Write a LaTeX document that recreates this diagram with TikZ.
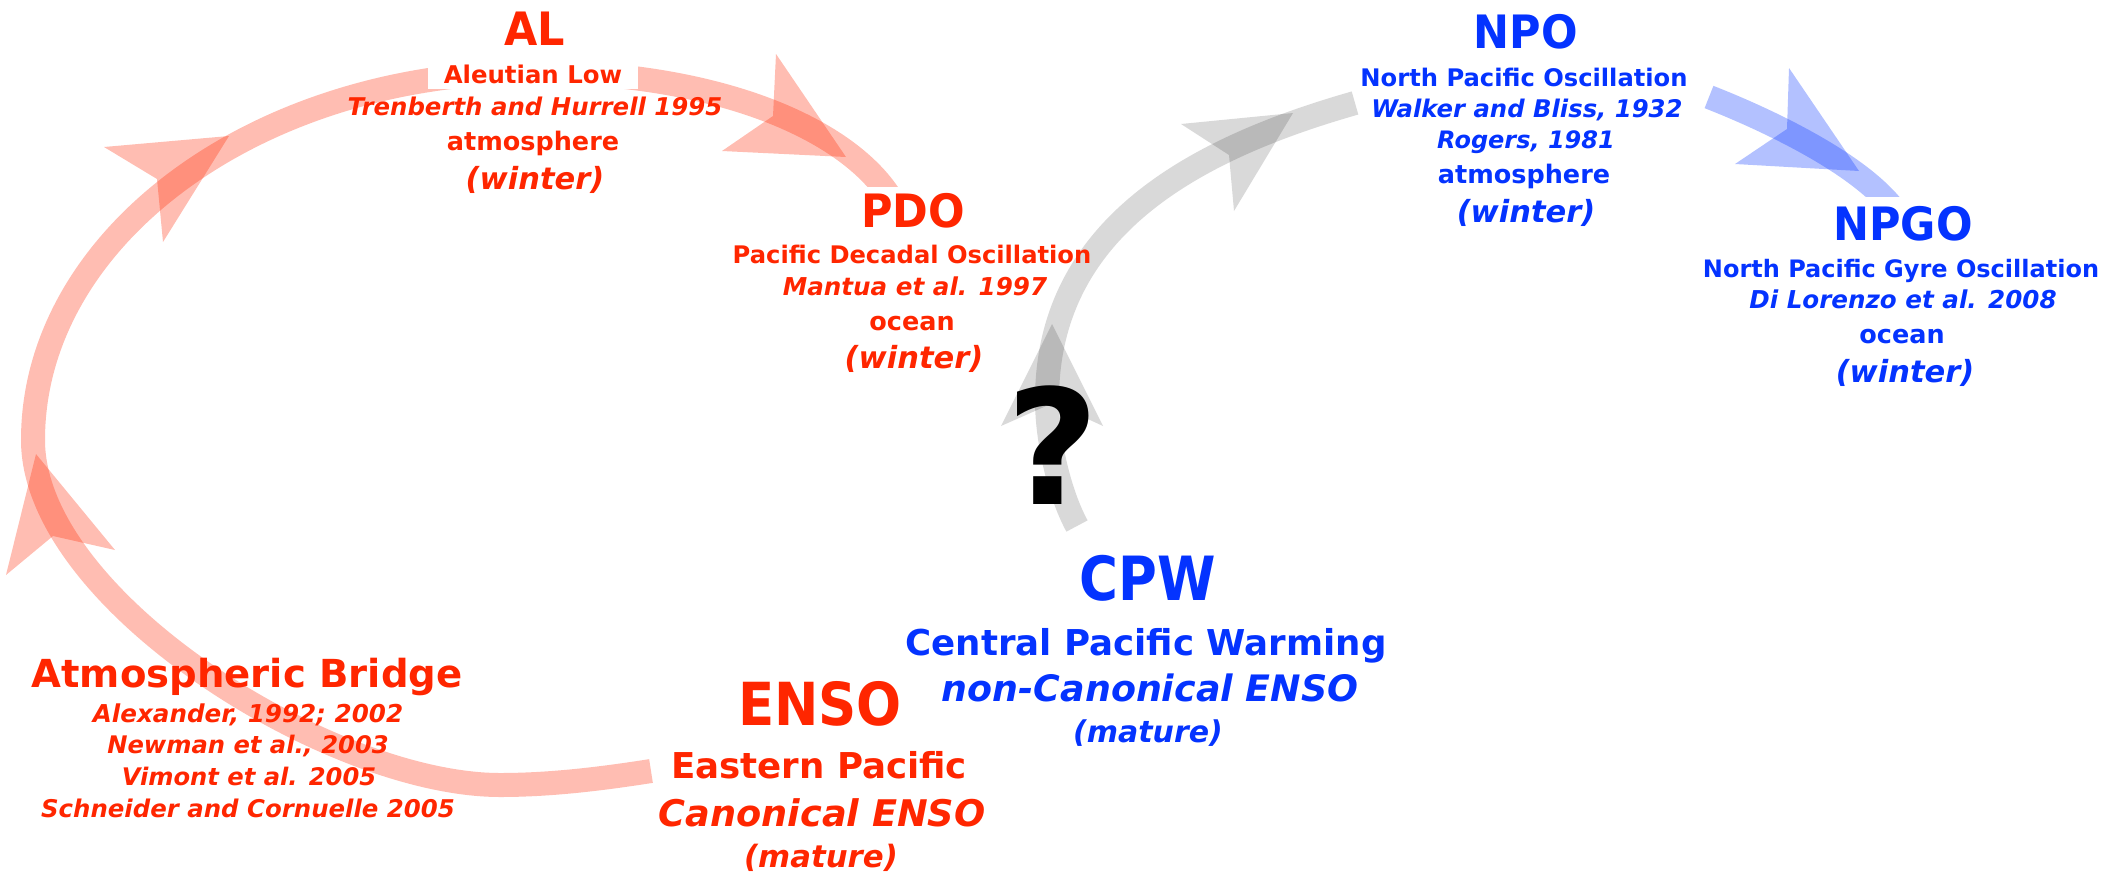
\documentclass[tikz,border=0pt]{standalone}
\usepackage{graphicx}
\usepackage{fontspec}
\setmainfont{DejaVu Sans}
\definecolor{kred}{RGB}{255,38,0}
\definecolor{kblue}{RGB}{4,51,255}
\newcommand\setfs[1]{\fontsize{#1}{#1}\selectfont}
\newcommand\tall[2]{\scalebox{1}[#1]{#2}}
\begin{document}
\begin{tikzpicture}[x=1pt,y=-1pt,
  lbl/.style={anchor=base, inner sep=0pt},
  rtxt/.style={lbl, text=kred},
  btxt/.style={lbl, text=kblue},
  tb/.style={font=\bfseries\setfs{#1}},
  ti/.style={font=\bfseries\itshape\setfs{#1}},
  arcline/.style={line width=24pt, line cap=butt},
  redarc/.style={arcline, draw=kred, draw opacity=0.3},
  grayarc/.style={arcline, draw=black, draw opacity=0.15},
  bluearc/.style={arcline, draw=kblue, draw opacity=0.3},
  redhead/.style={fill=kred, fill opacity=0.3},
  grayhead/.style={fill=black, fill opacity=0.15},
  bluehead/.style={fill=kblue, fill opacity=0.3},
  cover/.style={fill=white}
]
\useasboundingbox (0,0) rectangle (2106,876);

% ---------- connectors ----------
\coordinate (rA) at (651,771);
\coordinate (rB) at (500,785);
\coordinate (rC) at (33,440);
\coordinate (rD) at (533,72);
\coordinate (rE) at (892,200);
\draw[redarc] (rA) .. controls (600,779) and (550,785) .. (rB)
  .. controls (330,785) and (33,600) .. (rC)
  .. controls (33,237) and (257,72) .. (rD)
  .. controls (720,72) and (850,130) .. (rE);

\coordinate (gA) at (1077,526);
\coordinate (gB) at (1047,400);
\coordinate (gC) at (1355,103);
\draw[grayarc] (gA) .. controls (1060,495) and (1047,442) .. (gB)
  .. controls (1047,230) and (1190,150) .. (gC);

\coordinate (bA) at (1709,97);
\coordinate (bB) at (1893,208);
\draw[bluearc] (bA) .. controls (1760,117) and (1855,160) .. (bB);

% ---------- arrowheads ----------
\fill[redhead] (36,454) -- (115,550) -- (53,536) -- (6,575) -- cycle;
\fill[redhead] (229,136) -- (104,147) -- (157,179) -- (163,242) -- cycle;
\fill[redhead] (846,157) -- (776,54) -- (773,116) -- (722,151) -- cycle;
\fill[grayhead] (1052,324) -- (1001,426) -- (1053,403) -- (1103,426) -- cycle;
\fill[grayhead] (1293,113) -- (1181,124) -- (1229,155) -- (1234,211) -- cycle;
\fill[bluehead] (1859,171) -- (1789,68) -- (1787,129) -- (1735,164) -- cycle;

% ---------- AL ----------
\node[rtxt, tb=43] (al) at (535,45) {\tall{1.07}{AL}};
\node[rtxt, tb=24.4, cover, inner xsep=16pt, inner ysep=6pt] (alsub) at (533,83) {Aleutian Low};
\node[rtxt, ti=24.4] (alref) at (535,115) {Trenberth and Hurrell 1995};
\node[rtxt, tb=25.5] (alatm) at (533,150) {atmosphere};
\node[rtxt, ti=30.5] (alwin) at (535,189) {(winter)};

% ---------- PDO ----------
\node[rtxt, tb=43, cover, inner ysep=6pt, inner xsep=10pt] (pdo) at (913,227) {\tall{1.07}{PDO}};
\node[rtxt, tb=24.2] (pdosub) at (912,263) {Pacific Decadal Oscillation};
\node[rtxt, ti=24.6] (pdoref) at (915,295) {Mantua et al. 1997};
\node[rtxt, tb=25.5] (pdoocn) at (912,330) {ocean};
\node[rtxt, ti=30.5] (pdowin) at (914,368) {(winter)};

% ---------- NPO ----------
\node[btxt, tb=43] (npo) at (1526,48) {\tall{1.07}{NPO}};
\node[btxt, tb=24.2] (nposub) at (1524,86) {North Pacific Oscillation};
\node[btxt, ti=24.3] (nporefa) at (1527,117) {Walker and Bliss, 1932};
\node[btxt, ti=24] (nporefb) at (1526,148) {Rogers, 1981};
\node[btxt, tb=25.5] (npoatm) at (1524,183) {atmosphere};
\node[btxt, ti=30.5] (npowin) at (1526,222) {(winter)};

% ---------- NPGO ----------
\node[btxt, tb=43, cover, inner ysep=9pt, inner xsep=10pt] (npgo) at (1903,240) {\tall{1.07}{NPGO}};
\node[btxt, tb=24] (npgosub) at (1901,277) {North Pacific Gyre Oscillation};
\node[btxt, ti=24.6] (npgoref) at (1903,308) {Di Lorenzo et al. 2008};
\node[btxt, tb=25.5] (npgoocn) at (1902,343) {ocean};
\node[btxt, ti=30.5] (npgowin) at (1905,382) {(winter)};

% ---------- Atmospheric Bridge ----------
\node[rtxt, tb=38.6] (ab) at (247,687) {Atmospheric Bridge};
\node[rtxt, ti=24.6] (aba) at (248,722) {Alexander, 1992; 2002};
\node[rtxt, ti=24.2] (abb) at (248,753) {Newman et al., 2003};
\node[rtxt, ti=24.2] (abc) at (249,785) {Vimont et al. 2005};
\node[rtxt, ti=24.4] (abd) at (248,817) {Schneider and Cornuelle 2005};

% ---------- ENSO ----------
\node[rtxt, tb=53] (enso) at (820,725) {\tall{1.12}{ENSO}};
\node[rtxt, tb=35.6] (ensosub) at (819,778) {Eastern Pacific};
\node[rtxt, ti=36.7] (ensoref) at (822,826) {Canonical ENSO};
\node[rtxt, ti=30.8] (ensomat) at (821,867) {(mature)};

% ---------- CPW ----------
\node[btxt, tb=53] (cpw) at (1148,600) {\tall{1.15}{CPW}};
\node[btxt, tb=35.6] (cpwsub) at (1146,655) {Central Pacific Warming};
\node[btxt, ti=36.4] (cpwref) at (1150,701) {non-Canonical ENSO};
\node[btxt, ti=30] (cpwmat) at (1148,742) {(mature)};

% ---------- question mark ----------
\node[lbl, text=black, tb=160] (qm) at (1053,504) {?};
\end{tikzpicture}
\end{document}
